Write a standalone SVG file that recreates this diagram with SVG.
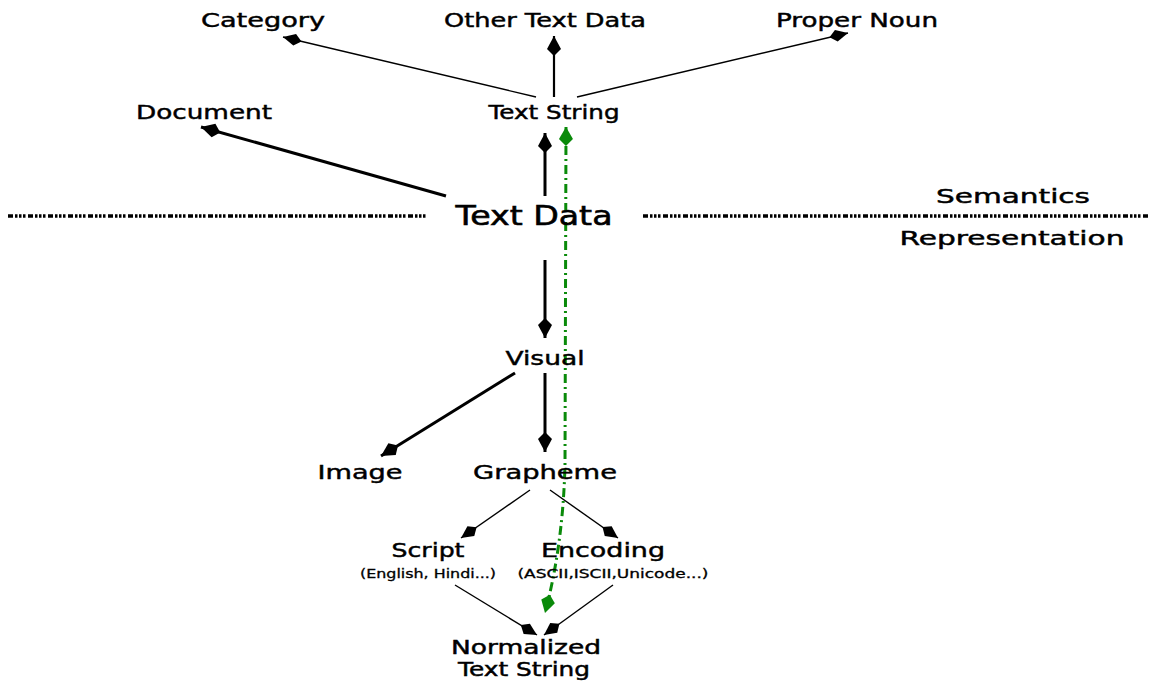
<svg xmlns="http://www.w3.org/2000/svg" width="1151" height="682" viewBox="0 0 1151 682">
  <style>
    .lbl { font-family: "DejaVu Sans", "Liberation Sans", sans-serif; font-size: 20px; fill: #000; stroke: #000; stroke-width: 0.45; text-anchor: middle; }
    .big { font-size: 27px; stroke-width: 0.6; }
    .small { font-size: 12px; stroke-width: 0.3; }
    .thin { stroke: #000; stroke-width: 1.4; fill: none; marker-end: url(#kiteSmall); }
    .thick { stroke: #000; stroke-width: 3; fill: none; marker-end: url(#kite); }
    .sep { stroke: #000; stroke-width: 3.5; stroke-dasharray: 5 2 2.5 1.5 2.5 1.5 2.5 2.5; fill: none; }
    .trace { stroke: #0a8a0a; stroke-width: 3; fill: none; stroke-dasharray: 9 4 2 4; marker-start: url(#kiteGreenStart); marker-end: url(#kiteGreen); }
  </style>
  <defs>
    <marker id="kite" markerUnits="userSpaceOnUse" markerWidth="24" markerHeight="18" viewBox="-22 -9 24 18" refX="0" refY="0" orient="auto">
      <path d="M0,0 L-13,-7 L-20,0 L-13,7 Z" fill="#000"/>
    </marker>
    <marker id="kiteSmall" markerUnits="userSpaceOnUse" markerWidth="24" markerHeight="18" viewBox="-22 -9 24 18" refX="0" refY="0" orient="auto">
      <path d="M0,0 L-12,-6 L-19,0 L-12,6 Z" fill="#000"/>
    </marker>
    <marker id="kiteGreen" markerUnits="userSpaceOnUse" markerWidth="24" markerHeight="18" viewBox="-22 -9 24 18" refX="0" refY="0" orient="auto">
      <path d="M0,0 L-12,-7 L-19,0 L-12,7 Z" fill="#0a8a0a"/>
    </marker>
    <marker id="kiteGreenStart" markerUnits="userSpaceOnUse" markerWidth="24" markerHeight="18" viewBox="-22 -9 24 18" refX="0" refY="0" orient="auto-start-reverse">
      <path d="M0,0 L-12,-7 L-19,0 L-12,7 Z" fill="#0a8a0a"/>
    </marker>
  </defs>

  <!-- boundary between semantics and representation -->
  <g id="separator">
    <line class="sep" x1="8" y1="216" x2="428" y2="216"/>
    <line class="sep" x1="643" y1="216" x2="1150" y2="216"/>
  </g>

  <g id="connectors">
    <line class="thin" x1="536" y1="97" x2="283" y2="37"/>
    <line class="thick" style="stroke-width:2.2" x1="554" y1="97" x2="554" y2="36"/>
    <line class="thin" x1="577" y1="97" x2="848" y2="33"/>
    <line class="thick" x1="446" y1="196" x2="201" y2="127"/>
    <line class="thick" x1="545" y1="196" x2="545" y2="133"/>
    <line class="thick" x1="545" y1="260" x2="545" y2="338"/>
    <line class="thick" x1="515" y1="373" x2="381" y2="456"/>
    <line class="thick" x1="545" y1="373" x2="545" y2="452"/>
    <line class="thin" x1="530" y1="490" x2="461" y2="538"/>
    <line class="thin" x1="550" y1="490" x2="618" y2="538"/>
    <line class="thin" x1="455" y1="585" x2="537" y2="635"/>
    <line class="thin" x1="613" y1="585" x2="544" y2="635"/>
    <path class="trace" d="M566,127 L565,465 Q563,545 545,613"/>
  </g>

  <g id="category"><text class="lbl" x="263" y="27" textLength="124" lengthAdjust="spacingAndGlyphs">Category</text></g>
  <g id="other-text-data"><text class="lbl" x="545" y="27" textLength="202" lengthAdjust="spacingAndGlyphs">Other Text Data</text></g>
  <g id="proper-noun"><text class="lbl" x="857" y="27" textLength="162" lengthAdjust="spacingAndGlyphs">Proper Noun</text></g>
  <g id="document"><text class="lbl" x="204" y="119" textLength="136" lengthAdjust="spacingAndGlyphs">Document</text></g>
  <g id="text-string"><text class="lbl" x="554" y="119" textLength="131" lengthAdjust="spacingAndGlyphs">Text String</text></g>
  <g id="text-data"><text class="lbl big" x="534" y="225" textLength="157" lengthAdjust="spacingAndGlyphs">Text Data</text></g>
  <g id="semantics"><text class="lbl" x="1013" y="203" textLength="154" lengthAdjust="spacingAndGlyphs">Semantics</text></g>
  <g id="representation"><text class="lbl" x="1012" y="245" textLength="225" lengthAdjust="spacingAndGlyphs">Representation</text></g>
  <g id="visual"><text class="lbl" x="545" y="365" textLength="79" lengthAdjust="spacingAndGlyphs">Visual</text></g>
  <g id="image"><text class="lbl" x="360" y="479" textLength="85" lengthAdjust="spacingAndGlyphs">Image</text></g>
  <g id="grapheme"><text class="lbl" x="545" y="479" textLength="144" lengthAdjust="spacingAndGlyphs">Grapheme</text></g>
  <g id="script">
    <text class="lbl" x="428" y="557" textLength="73" lengthAdjust="spacingAndGlyphs">Script</text>
    <text class="lbl small" x="428" y="578" textLength="136" lengthAdjust="spacingAndGlyphs">(English, Hindi...)</text>
  </g>
  <g id="encoding">
    <text class="lbl" x="603" y="557" textLength="124" lengthAdjust="spacingAndGlyphs">Encoding</text>
    <text class="lbl small" x="613" y="578" textLength="191" lengthAdjust="spacingAndGlyphs">(ASCII,ISCII,Unicode...)</text>
  </g>
  <g id="normalized-text-string">
    <text class="lbl" style="font-size:19px" x="526" y="654" textLength="150" lengthAdjust="spacingAndGlyphs">Normalized</text>
    <text class="lbl" style="font-size:19px" x="524" y="676" textLength="132" lengthAdjust="spacingAndGlyphs">Text String</text>
  </g>
</svg>
